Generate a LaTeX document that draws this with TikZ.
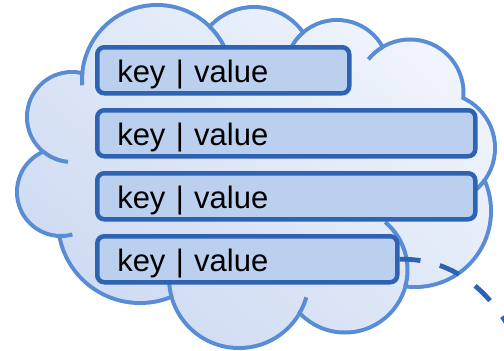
\documentclass[tikz,border=0pt]{standalone}
\usepackage{fontspec}
\setmainfont{Liberation Sans}

\definecolor{cloudline}{RGB}{88,140,213}
\definecolor{cloudtop}{RGB}{240,244,252}
\definecolor{cloudbot}{RGB}{205,218,242}
\definecolor{boxline}{RGB}{46,98,178}
\definecolor{boxfill}{RGB}{187,207,239}

% cloud lobes: centre x / centre y / radius of the outline
\newcommand\lobelist{72/117/45, 157/80/75, 254/67/60, 337/72/52, 410/93/53.5,
  440/148/55, 415/211/76, 345/270/62.5, 239/278/70, 140/221/82, 61/192/44}

\begin{document}
\begin{tikzpicture}[x=1pt,y=-1pt,
  lobe/.style={draw=cloudline, line width=8pt},
  tail/.style={draw=cloudline, line width=4pt},
  kvbox/.style={draw=boxline, fill=boxfill, line width=4.5pt, rounded corners=7pt,
    anchor=north west, minimum height=46pt, inner xsep=20pt, inner ysep=0pt,
    align=left, text height=26pt, text depth=2pt,
    font=\fontsize{31}{36}\selectfont},
  link/.style={draw=boxline, line width=4.8pt, dash pattern=on 21pt off 20pt}]

\useasboundingbox (0,0) rectangle (504,351);

% outline of the lobes (inner half is covered by the fill below)
\path[lobe] foreach \cx/\cy/\r in \lobelist {(\cx,\cy) circle[radius=\r pt-2pt]};

% gradient fill of the lobes
\begin{scope}
  \clip foreach \cx/\cy/\r in \lobelist {(\cx,\cy) circle[radius=\r pt-2pt]};
  \shade[top color=cloudtop, bottom color=cloudbot, shading angle=-40]
    (0,0) rectangle (504,351);
\end{scope}
% gradient fill of the core between the lobe centres
\begin{scope}
  \clip (72,117) -- (157,80) -- (254,67) -- (337,72) -- (410,93) -- (440,148)
    -- (415,211) -- (345,270) -- (239,278) -- (140,221) -- (61,192) -- cycle;
  \shade[top color=cloudtop, bottom color=cloudbot, shading angle=-40]
    (0,0) rectangle (504,351);
\end{scope}

% short inner arcs where the lobes meet
\draw[tail] (157,80) ++(174:75pt) arc[start angle=174, end angle=184, radius=75pt];
\draw[tail] (157,80) ++(45.5:75pt) arc[start angle=45.5, end angle=25, radius=75pt];
\draw[tail] (72,117) ++(230:45pt) arc[start angle=230, end angle=265, radius=45pt];
\draw[tail] (61,192) ++(268:44pt) arc[start angle=268, end angle=285, radius=44pt];
\draw[tail] (239,278) ++(196:70pt) arc[start angle=196, end angle=168, radius=70pt];
\draw[tail] (239,278) ++(-31:70pt) arc[start angle=-31, end angle=-16, radius=70pt];
\draw[tail] (345,270) ++(-15:62.5pt) arc[start angle=-15, end angle=50, radius=62.5pt];
\draw[tail] (440,148) ++(-36:55pt) arc[start angle=-36, end angle=-49, radius=55pt];
\draw[tail] (410,93) ++(121:53.5pt) arc[start angle=121, end angle=141, radius=53.5pt];
\draw[tail] (337,72) ++(131:52pt) arc[start angle=131, end angle=150, radius=52pt];

% key | value entries
\node[kvbox, text width=212pt] (box1) at (95,45)  {key | value};
\node[kvbox, text width=338pt] (box2) at (95,108) {key | value};
\node[kvbox, text width=338pt] (box3) at (95,171) {key | value};
\node[kvbox, text width=260pt] (box4) at (95,234) {key | value};

% dashed link leaving the last entry
\coordinate (linkend) at (518,345);
\draw[link] (box4.east) .. controls (450,258) and (492,288) .. (linkend);

\end{tikzpicture}
\end{document}
